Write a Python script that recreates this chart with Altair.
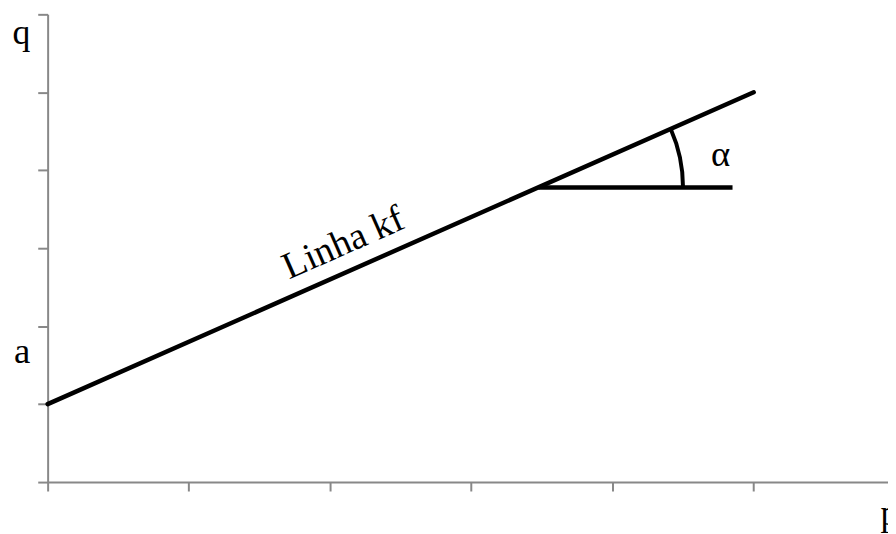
import altair as alt
import pandas as pd

# "Linha kf": straight line from (0, a) up to (5, 5)
line_p = [0, 5]
line_q = [1, 5]
# horizontal reference segment that forms the angle alpha
hor_p = [3.475, 4.85]
hor_q = [3.78, 3.78]
# centre of the angle arc (vertex of alpha)
arc_p = [3.475]
arc_q = [3.78]
# tick positions (no tick labels in the original)
x_ticks = [0, 1, 2, 3, 4, 5]
y_ticks = [0, 1, 2, 3, 4, 5, 6]
# free text labels
label_text = ["a", "α"]
label_p = [-0.18, 4.765]
label_q = [1.523, 4.06]
line_label = ["Linha kf"]
line_label_p = [1.71]
line_label_q = [2.60]

GRAY = "#888888"
FONT = "'Times New Roman', 'Liberation Serif', serif"
FS = 36

x_scale = alt.Scale(domain=[0, 5.951], nice=False, zero=False)
y_scale = alt.Scale(domain=[0, 6], nice=False, zero=False)

axis_x = alt.Axis(
    values=x_ticks, labels=False, grid=False,
    domainColor=GRAY, domainWidth=2, tickColor=GRAY, tickWidth=2, tickSize=9,
    title="p", titleFont=FONT, titleFontSize=FS, titleFontWeight="normal",
    titleColor="black", titleAlign="left", titleBaseline="alphabetic",
    titleX=840, titleY=43, titleAngle=0,
)
axis_y = alt.Axis(
    values=y_ticks, labels=False, grid=False,
    domainColor=GRAY, domainWidth=2, tickColor=GRAY, tickWidth=2, tickSize=10,
    title="q", titleFont=FONT, titleFontSize=FS, titleFontWeight="normal",
    titleColor="black", titleAlign="center", titleBaseline="alphabetic",
    titleX=-27, titleY=29, titleAngle=0,
)

X = alt.X("p:Q", scale=x_scale, axis=axis_x)
Y = alt.Y("q:Q", scale=y_scale, axis=axis_y)

line_df = pd.DataFrame({"p": line_p, "q": line_q})
hor_df = pd.DataFrame({"p": hor_p, "q": hor_q})
arc_df = pd.DataFrame({"p": arc_p, "q": arc_q})
lab_df = pd.DataFrame({"p": label_p, "q": label_q, "t": label_text})
ll_df = pd.DataFrame({"p": line_label_p, "q": line_label_q, "t": line_label})

main_line = alt.Chart(line_df).mark_line(
    color="black", strokeWidth=4.5, strokeCap="round"
).encode(x=X, y=Y)

hor_line = alt.Chart(hor_df).mark_line(
    color="black", strokeWidth=4.5, strokeCap="butt"
).encode(x=X, y=Y)

angle_arc = alt.Chart(arc_df).mark_arc(
    filled=False, stroke="black", strokeWidth=4,
    radius=146, radius2=146, theta=1.1554, theta2=1.5708,
).encode(x=X, y=Y)

labels = alt.Chart(lab_df).mark_text(
    font=FONT, fontSize=37, color="black", align="center", baseline="alphabetic"
).encode(x=X, y=Y, text="t:N")

line_text = alt.Chart(ll_df).mark_text(
    font=FONT, fontSize=38, color="black", align="left", baseline="alphabetic",
    angle=336.2,
).encode(x=X, y=Y, text="t:N")

chart = alt.layer(main_line, hor_line, angle_arc, labels, line_text).properties(
    width=848, height=472,
    autosize=alt.AutoSizeParams(type="none"),
    padding={"left": 40, "top": 4, "right": 0, "bottom": 50},
    background="white",
).configure_view(stroke=None)

chart.save("out.html", embed_options={"renderer": "svg", "actions": False})
